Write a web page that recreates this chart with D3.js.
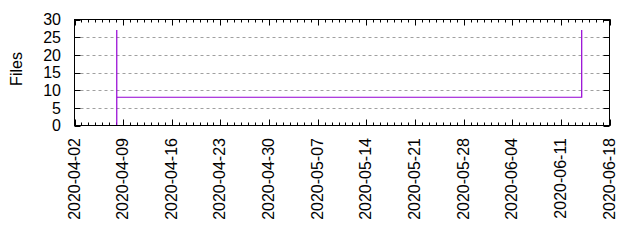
<!DOCTYPE html>
<html><head><meta charset="utf-8">
<script src="https://cdn.jsdelivr.net/npm/d3@7"></script>
<style>body{margin:0;background:#fff}svg{display:block}text{font-family:"Liberation Sans",Arial,sans-serif}</style>
</head><body><svg id="c" width="640" height="240"></svg>
<script>
const dates = ["2020-04-08T02:00","2020-04-08T02:00","2020-04-08T02:00","2020-06-14T00:00","2020-06-14T00:00"];
const files = [0, 27, 8, 8, 27];
const yTicks = [0, 5, 10, 15, 20, 25, 30];
const xTickLabels = ["2020-04-02","2020-04-09","2020-04-16","2020-04-23","2020-04-30","2020-05-07","2020-05-14","2020-05-21","2020-05-28","2020-06-04","2020-06-11","2020-06-18"];
const yLabel = "Files";

const parse = d3.timeParse("%Y-%m-%dT%H:%M");
const parseDay = d3.timeParse("%Y-%m-%d");
const L = 74.5, R = 609.5, T = 19.5, B = 125.5;
const svg = d3.select("#c");
const x = d3.scaleTime().domain([parseDay(xTickLabels[0]), parseDay(xTickLabels[xTickLabels.length-1])]).range([L, R]);
const y = d3.scaleLinear().domain([0, 30]).range([B, T]);
const fs = 16;

// grid
svg.append("g").selectAll("line").data(yTicks.filter(v => v > 0 && v < 30)).join("line")
  .attr("x1", L).attr("x2", R).attr("y1", d => Math.round(y(d)) + 0.5).attr("y2", d => Math.round(y(d)) + 0.5)
  .attr("stroke", "#a0a0a0").attr("stroke-width", 1).attr("stroke-dasharray", "3,3");

// minor x ticks (daily)
const days = d3.timeDay.range(x.domain()[0], d3.timeDay.offset(x.domain()[1], 1));
const tg = svg.append("g").attr("stroke", "#000").attr("stroke-width", 1);
days.forEach(d => {
  const px = Math.round(x(d)) + 0.5;
  tg.append("line").attr("x1", px).attr("x2", px).attr("y1", B).attr("y2", B - 3);
  tg.append("line").attr("x1", px).attr("x2", px).attr("y1", T).attr("y2", T + 3);
});
xTickLabels.forEach(s => {
  const px = Math.round(x(parseDay(s))) + 0.5;
  tg.append("line").attr("x1", px).attr("x2", px).attr("y1", B).attr("y2", B - 6);
  tg.append("line").attr("x1", px).attr("x2", px).attr("y1", T).attr("y2", T + 6);
});
yTicks.forEach(v => {
  const py = Math.round(y(v)) + 0.5;
  tg.append("line").attr("x1", L).attr("x2", L + 6).attr("y1", py).attr("y2", py);
  tg.append("line").attr("x1", R).attr("x2", R - 6).attr("y1", py).attr("y2", py);
});

// data line
const line = d3.line().x((d, i) => x(parse(dates[i]))).y((d, i) => y(files[i]));
svg.append("path").datum(files).attr("d", line).attr("fill", "none")
  .attr("stroke", "#9400d3").attr("stroke-width", 1.2);

// frame
svg.append("rect").attr("x", L).attr("y", T).attr("width", R - L).attr("height", B - T)
  .attr("fill", "none").attr("stroke", "#000").attr("stroke-width", 1);

// y labels
svg.append("g").selectAll("text").data(yTicks).join("text")
  .attr("x", 61).attr("y", d => y(d)).attr("dy", "0.36em").attr("text-anchor", "end")
  .attr("font-size", fs).text(d => d);

// x labels rotated
svg.append("g").selectAll("text").data(xTickLabels).join("text")
  .attr("transform", d => `translate(${x(parseDay(d)) + 5},138) rotate(-90)`)
  .attr("text-anchor", "end").attr("font-size", fs).text(d => d);

svg.append("text").attr("transform", "translate(22,69) rotate(-90)").attr("text-anchor", "middle")
  .attr("font-size", fs).text(yLabel);
</script></body></html>
